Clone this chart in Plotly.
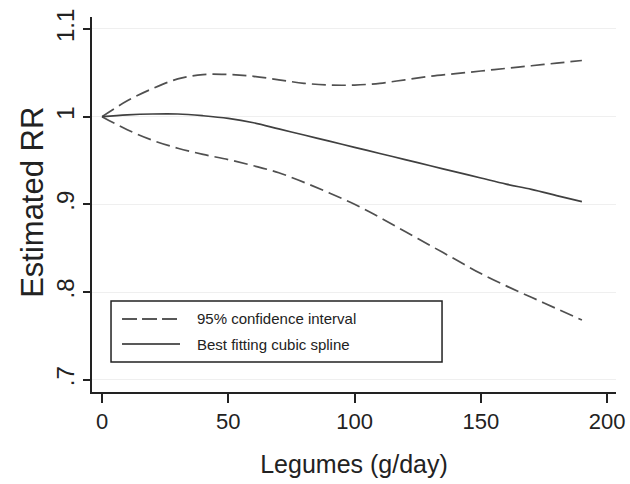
import plotly.graph_objects as go

legumes = [0, 10, 20, 30, 40, 50, 60, 70, 80, 90, 100, 110, 120, 130, 140, 150, 160, 170, 180, 190]
upper_ci = [1.000, 1.018, 1.032, 1.043, 1.048, 1.048, 1.046, 1.042, 1.038, 1.036, 1.036, 1.038,
            1.042, 1.046, 1.049, 1.052, 1.055, 1.058, 1.061, 1.064]
spline_rr = [1.000, 1.002, 1.003, 1.003, 1.001, 0.998, 0.993, 0.986, 0.979, 0.972, 0.965, 0.958,
             0.951, 0.944, 0.937, 0.930, 0.923, 0.917, 0.910, 0.903]
lower_ci = [1.000, 0.985, 0.973, 0.964, 0.957, 0.951, 0.944, 0.936, 0.925, 0.913, 0.900, 0.885,
            0.869, 0.853, 0.837, 0.821, 0.807, 0.794, 0.781, 0.768]

x_ticks = [0, 50, 100, 150, 200]
y_ticks = [0.7, 0.8, 0.9, 1.0, 1.1]
y_tick_labels = [".7", ".8", ".9", "1", "1.1"]
legend_labels = ["95% confidence interval", "Best fitting cubic spline"]

FONT = "Liberation Sans, Arial, sans-serif"
dash_col = "#505050"
solid_col = "#404040"

fig = go.Figure()
fig.add_trace(go.Scatter(x=legumes, y=upper_ci, mode="lines", name=legend_labels[0],
                         line=dict(color=dash_col, width=1.7, dash="14px,6px", shape="spline"),
                         showlegend=False))
fig.add_trace(go.Scatter(x=legumes, y=lower_ci, mode="lines", name=legend_labels[0],
                         line=dict(color=dash_col, width=1.7, dash="14px,6px", shape="spline"),
                         showlegend=False))
fig.add_trace(go.Scatter(x=legumes, y=spline_rr, mode="lines", name=legend_labels[1],
                         line=dict(color=solid_col, width=1.7, shape="spline"),
                         showlegend=False))

# legend drawn manually (paper coords)
shapes = [
    dict(type="rect", xref="paper", yref="paper", x0=0.0363, x1=0.668, y0=0.08, y1=0.2427,
         line=dict(color="#222", width=1.5), fillcolor="white", layer="above"),
    dict(type="line", xref="paper", yref="paper", x0=0.0573, x1=0.168, y0=0.1947, y1=0.1947,
         line=dict(color="#222", width=1.5, dash="15px,5px"), layer="above"),
    dict(type="line", xref="paper", yref="paper", x0=0.0573, x1=0.168, y0=0.128, y1=0.128,
         line=dict(color="#222", width=1.5), layer="above"),
]
annotations = [
    dict(xref="paper", yref="paper", x=0.1966, y=0.1947, text=legend_labels[0], showarrow=False,
         xanchor="left", yanchor="middle", font=dict(family=FONT, size=15, color="#222")),
    dict(xref="paper", yref="paper", x=0.1966, y=0.128, text=legend_labels[1], showarrow=False,
         xanchor="left", yanchor="middle", font=dict(family=FONT, size=15, color="#222")),
    dict(xref="paper", yref="paper", x=-0.1126, y=0.507, text="Estimated RR", showarrow=False,
         textangle=-90, xanchor="center", yanchor="middle",
         font=dict(family=FONT, size=31, color="#222")),
]

fig.update_layout(
    width=630, height=484,
    margin=dict(l=92, r=14, t=17, b=92),
    paper_bgcolor="white", plot_bgcolor="white",
    font=dict(family=FONT, color="#222"),
    shapes=shapes, annotations=annotations,
    showlegend=False,
)
fig.update_xaxes(
    range=[-3.96, 203.5], tickvals=x_ticks, ticks="outside", ticklen=9, tickwidth=1.5,
    tickcolor="#222", showline=True, linecolor="#222", linewidth=1.5, showgrid=False,
    zeroline=False, tickfont=dict(size=22, family=FONT, color="#222"),
    title=dict(text="Legumes (g/day)", font=dict(size=25, family=FONT, color="#222"), standoff=22),
    automargin=False,
)
fig.update_yaxes(
    range=[0.686, 1.1136], tickvals=y_ticks, ticktext=y_tick_labels, tickangle=-90,
    ticks="outside", ticklen=7, tickwidth=1.5, tickcolor="#222",
    showline=True, linecolor="#222", linewidth=1.5,
    showgrid=True, gridcolor="#efefef", gridwidth=1, zeroline=False,
    tickfont=dict(size=24, family=FONT, color="#222"),
    automargin=False,
)

fig.write_html("out.html")
